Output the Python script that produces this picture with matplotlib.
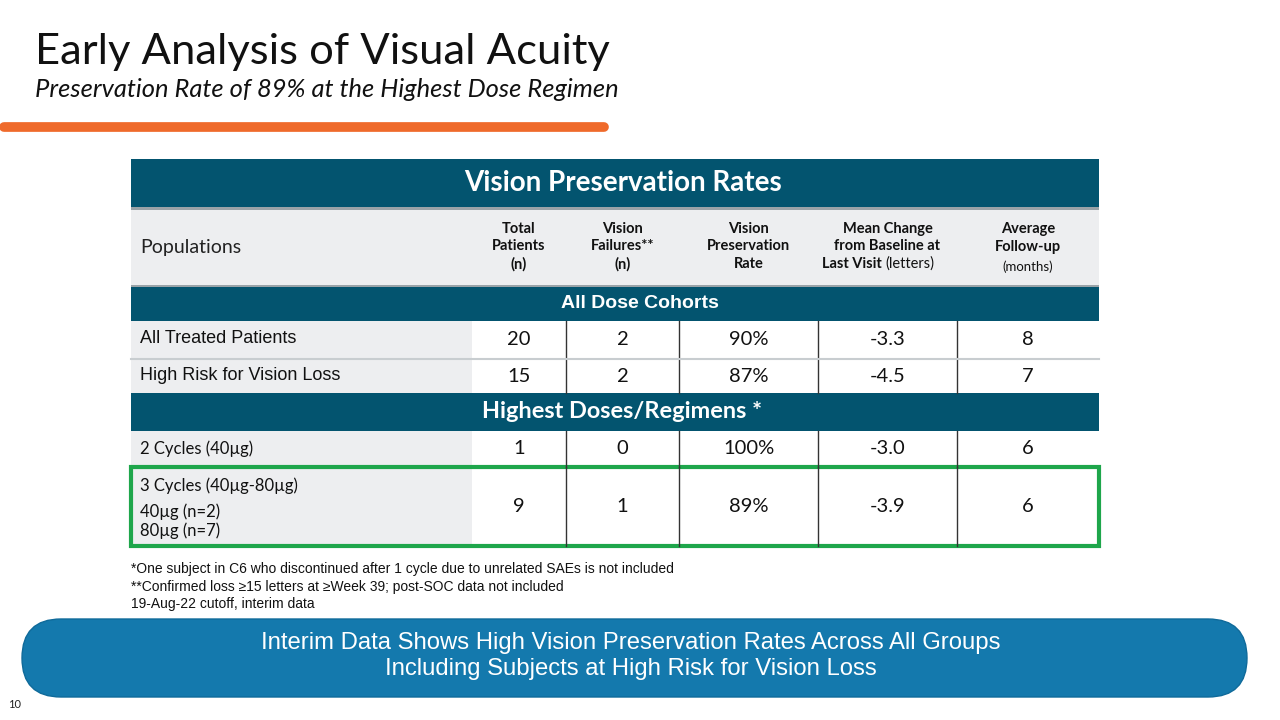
import matplotlib
matplotlib.use("Agg")
import matplotlib.pyplot as pyplot
from matplotlib.patches import Rectangle, FancyBboxPatch

# table content
col_headers = ["Total\nPatients\n(n)", "Vision\nFailures**\n(n)", "Vision\nPreservation\nRate",
               "Mean Change\nfrom Baseline at\nLast Visit", "Average\nFollow-up"]
row_labels = ["All Treated Patients", "High Risk for Vision Loss",
              "2 Cycles (40µg)", "3 Cycles (40µg-80µg)"]
total_patients = ["20", "15", "1", "9"]
vision_failures = ["2", "2", "0", "1"]
preservation_rate = ["90%", "87%", "100%", "89%"]
mean_change = ["-3.3", "-4.5", "-3.0", "-3.9"]
follow_up = ["8", "7", "6", "6"]
footnotes = ["*One subject in C6 who discontinued after 1 cycle due to unrelated SAEs is not included",
             "**Confirmed loss \u226515 letters at \u2265Week 39; post-SOC data not included",
             "19-Aug-22 cutoff, interim data"]

DARK = "#03546f"
GRAY_BG = "#edeef0"
CAL = ["Lato", "DejaVu Sans"]
ARIAL = ["Liberation Sans", "DejaVu Sans"]

fig = pyplot.figure(figsize=(12.8, 7.2), dpi=100)
ax = fig.add_axes([0, 0, 1, 1])
ax.set_xlim(0, 1280)
ax.set_ylim(720, 0)
ax.axis("off")

# title block
ax.text(35, 64, "Early Analysis of Visual Acuity", fontsize=31.3, family=CAL, color="#111111")
ax.text(35, 97, "Preservation Rate of 89% at the Highest Dose Regimen", fontsize=18.4,
        family=CAL, style="italic", color="#111111")
ax.plot([4, 604], [127, 127], color="#ef6a2b", lw=7, solid_capstyle="round")

x0, x1 = 131, 1099
col_edges = [472, 566, 679, 818, 957, 1099]
col_centers = [(col_edges[i] + col_edges[i + 1]) / 2 for i in range(5)]

# main header band
ax.add_patch(Rectangle((x0, 159), x1 - x0, 48, color=DARK, lw=0))
ax.text(623, 183, "Vision Preservation Rates", fontsize=20, weight="bold",
        family=CAL, color="white", ha="center", va="center")
ax.add_patch(Rectangle((x0, 207), x1 - x0, 3, color="#9aa3a8", lw=0))

# column header row
ax.add_patch(Rectangle((x0, 210), x1 - x0, 75, color=GRAY_BG, lw=0))
ax.text(140, 247, "Populations", fontsize=14, family=CAL, color="#222222", va="center")
for i, h in enumerate(col_headers):
    lines = h.split("\n")
    for j, ln in enumerate(lines):
        y = 229 + j * 17.5
        if i == 3 and j == 2:
            ax.text(col_centers[i] - 2, y, "Last Visit ", fontsize=10.5, weight="bold",
                    family=CAL, ha="right", va="center", color="#111111")
            ax.text(col_centers[i] - 2, y, "(letters)", fontsize=10.5, family=CAL,
                    ha="left", va="center", color="#111111")
        else:
            ax.text(col_centers[i], y, ln, fontsize=10.5, weight="bold", family=CAL,
                    ha="center", va="center", color="#111111")
ax.text(col_centers[4], 267, "(months)", fontsize=9.5, family=CAL, ha="center",
        va="center", color="#111111")
ax.add_patch(Rectangle((x0, 285), x1 - x0, 2, color="#9aa3a8", lw=0))

# section bands
ax.add_patch(Rectangle((x0, 287), x1 - x0, 34, color=DARK, lw=0))
ax.text(640, 303, "All Dose Cohorts", fontsize=14, weight="bold", family=ARIAL,
        color="white", ha="center", va="center")
ax.add_patch(Rectangle((x0, 393), x1 - x0, 38, color=DARK, lw=0))
ax.text(622, 412, "Highest Doses/Regimens *", fontsize=16.9, weight="bold",
        family=CAL, color="white", ha="center", va="center")

# data rows
row_spans = [(321, 358), (359, 393), (431, 467), (467, 546)]
values = list(zip(total_patients, vision_failures, preservation_rate, mean_change, follow_up))
for r, (ya, yb) in enumerate(row_spans):
    ax.add_patch(Rectangle((x0, ya), col_edges[0] - x0, yb - ya, color=GRAY_BG, lw=0))
    for e in col_edges[1:-1]:
        ax.plot([e, e], [ya, yb], color="#333333", lw=1)
    yc = (ya + yb) / 2
    for c, v in enumerate(values[r]):
        ax.text(col_centers[c], yc, v, fontsize=14.5, family=CAL, ha="center", va="center",
                color="#111111")
    if r < 2:
        ax.text(140, yc - 1, row_labels[r], fontsize=13, family=ARIAL, va="center",
                color="#111111")
    elif r == 2:
        ax.text(140, yc, row_labels[r], fontsize=12, family=CAL, va="center", color="#111111")
    else:
        ax.text(140, 486, row_labels[r], fontsize=12, family=CAL, va="center", color="#111111")
        ax.text(140, 512, "40µg (n=2)", fontsize=12, family=CAL, va="center", color="#111111")
        ax.text(140, 531, "80µg (n=7)", fontsize=12, family=CAL, va="center", color="#111111")
ax.plot([x0, x1], [358.5, 358.5], color="#c8cdd0", lw=1.5)

# highlight box
ax.add_patch(Rectangle((131, 467), 968, 79, fill=False, edgecolor="#1ea64b", lw=3))

# footnotes
for k, f in enumerate(footnotes):
    ax.text(131, 569 + k * 17.5, f, fontsize=10, family=ARIAL, va="center", color="#111111")

# bottom pill
ax.add_patch(FancyBboxPatch((22, 619), 1225, 78, boxstyle="round,pad=0,rounding_size=39",
                            facecolor="#1479ad", edgecolor="#0f6a9a", lw=1))
ax.text(631, 643, "Interim Data Shows High Vision Preservation Rates Across All Groups",
        fontsize=17.2, family=ARIAL, color="white", ha="center", va="center")
ax.text(631, 669, "Including Subjects at High Risk for Vision Loss",
        fontsize=17.2, family=ARIAL, color="white", ha="center", va="center")
ax.text(8, 704, "10", fontsize=8, family=CAL, color="#222222", va="center")

fig.savefig("out.png", dpi=100)
